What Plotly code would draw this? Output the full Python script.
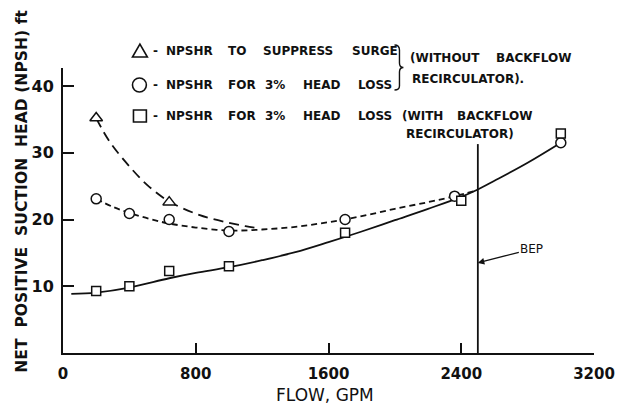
import plotly.graph_objects as go

# ---------------- data ----------------
tri_x = [200, 640]
tri_y = [35.2, 22.6]
circ_x = [200, 400, 640, 1000, 1700, 2360, 3000]
circ_y = [23.1, 20.9, 20.0, 18.2, 20.0, 23.5, 31.5]
sq_x = [200, 400, 640, 1000, 1700, 2400, 3000]
sq_y = [9.3, 10.0, 12.3, 13.0, 18.0, 22.8, 32.9]

# faired curves as drawn in the figure
tri_curve_x = [200, 280, 420, 520, 640, 820, 1000, 1100, 1180]
tri_curve_y = [35.2, 31.7, 27.4, 24.9, 22.7, 20.7, 19.5, 19.0, 18.7]
circ_curve_x = [200, 300, 400, 520, 640, 800, 1000, 1200, 1400, 1600, 1800, 2000, 2200, 2360, 2500]
circ_curve_y = [23.1, 21.9, 21.0, 20.1, 19.4, 18.8, 18.35, 18.5, 18.9, 19.6, 20.5, 21.6, 22.6, 23.5, 24.4]
sq_curve_x = [50, 200, 400, 640, 800, 1000, 1200, 1400, 1600, 1800, 2000, 2200, 2400, 2500, 2600, 2800, 3000]
sq_curve_y = [8.85, 9.05, 9.8, 11.2, 12.0, 12.85, 13.9, 15.1, 16.6, 18.2, 19.9, 21.6, 23.4, 24.5, 25.8, 28.5, 31.5]

bep_flow = 2500
bep_line_top = 31.3
bep_arrow_y = 13.5

x_ticks = [0, 800, 1600, 2400, 3200]
y_ticks = [10, 20, 30, 40]
x_range = [0, 3200]
y_range = [0, 42.7]

# ---------------- layout helpers ----------------
# the page body adds an 8px margin, so the figure is drawn 8px smaller and
# every reference-pixel position is shifted by that offset
OFF = 8
W, H = 627 - OFF, 406 - OFF
L, R, T, B = 63, 598, 68, 353   # plot area in reference-window pixels


def px(x):
    return (x - L) / (R - L)


def py(y):
    return (B - y) / (B - T)


FONT = "DejaVu Sans"
BLACK = "#111111"

fig = go.Figure()

# curves
fig.add_trace(go.Scatter(x=tri_curve_x, y=tri_curve_y, mode="lines", line_shape="spline",
                         line=dict(color=BLACK, width=1.8, dash="10px,6px"), hoverinfo="skip"))
fig.add_trace(go.Scatter(x=circ_curve_x, y=circ_curve_y, mode="lines", line_shape="spline",
                         line=dict(color=BLACK, width=1.8, dash="6px,4px"), hoverinfo="skip"))
fig.add_trace(go.Scatter(x=sq_curve_x, y=sq_curve_y, mode="lines", line_shape="spline",
                         line=dict(color=BLACK, width=1.8), hoverinfo="skip"))
# BEP line
fig.add_trace(go.Scatter(x=[bep_flow, bep_flow], y=[0, bep_line_top], mode="lines",
                         line=dict(color=BLACK, width=1.8), hoverinfo="skip"))

# markers
mk = dict(color="white", line=dict(color=BLACK, width=1.5))
fig.add_trace(go.Scatter(x=tri_x, y=tri_y, mode="markers",
                         marker=dict(symbol="triangle-up", size=11, **mk)))
fig.add_trace(go.Scatter(x=circ_x, y=circ_y, mode="markers",
                         marker=dict(symbol="circle", size=10, **mk)))
fig.add_trace(go.Scatter(x=sq_x, y=sq_y, mode="markers",
                         marker=dict(symbol="square", size=9, **mk)))

annotations = []
shapes = []


def word(text, x, y, size=12, weight="bold"):
    annotations.append(dict(text=text, x=px(x), y=py(y), xref="paper", yref="paper",
                            xanchor="left", yanchor="middle", showarrow=False,
                            font=dict(family=FONT, size=size, color=BLACK, weight=weight)))


# legend line 1
for t, x in [("-", 152), ("NPSHR", 165), ("TO", 227), ("SUPPRESS", 262), ("SURGE", 352)]:
    word(t, x, 51)
# legend line 2
for t, x in [("-", 152), ("NPSHR", 165), ("FOR", 227), ("3%", 265), ("HEAD", 303), ("LOSS", 358)]:
    word(t, x, 85)
# legend line 3
for t, x in [("-", 152), ("NPSHR", 165), ("FOR", 227), ("3%", 265), ("HEAD", 303), ("LOSS", 358),
             ("(WITH", 403), ("BACKFLOW", 458)]:
    word(t, x, 116)
word("RECIRCULATOR)", 407, 134)
word("(WITHOUT", 411, 58)
word("BACKFLOW", 497, 58)
word("RECIRCULATOR).", 413, 79)

# legend symbols
sym_line = dict(color=BLACK, width=1.6)
shapes.append(dict(type="path", xref="paper", yref="paper",
                   path=f"M{px(133)},{py(57)} L{px(148)},{py(57)} L{px(140.5)},{py(44)} Z",
                   line=sym_line))
shapes.append(dict(type="circle", xref="paper", yref="paper",
                   x0=px(133), x1=px(147), y0=py(92), y1=py(78), line=sym_line))
shapes.append(dict(type="rect", xref="paper", yref="paper",
                   x0=px(134), x1=px(147), y0=py(122), y1=py(110), line=sym_line))
# brace
shapes.append(dict(type="path", xref="paper", yref="paper",
                   path=(f"M{px(397)},{py(45)} Q{px(402)},{py(45)} {px(402)},{py(50)} "
                         f"L{px(402)},{py(63)} Q{px(402)},{py(67.5)} {px(406)},{py(67.5)} "
                         f"Q{px(402)},{py(67.5)} {px(402)},{py(72)} "
                         f"L{px(402)},{py(86)} Q{px(402)},{py(90)} {px(397)},{py(90)}"),
                   line=dict(color=BLACK, width=1.4)))

# axis titles
annotations.append(dict(text="FLOW,&nbsp;GPM", x=px(327), y=py(395), xref="paper", yref="paper",
                        xanchor="center", yanchor="middle", showarrow=False,
                        font=dict(family=FONT, size=17, color=BLACK)))
sp = "\u00a0\u00a0"
ytitle = f"NET{sp}POSITIVE{sp}SUCTION{sp}HEAD\u00a0(NPSH)\u00a0ft"
annotations.append(dict(text=ytitle, x=px(21.5), y=py(191), xref="paper", yref="paper",
                        xanchor="center", yanchor="middle", showarrow=False, textangle=-90,
                        font=dict(family=FONT, size=15.6, color=BLACK, weight="bold")))

# BEP annotation
annotations.append(dict(text="BEP", x=bep_flow, y=bep_arrow_y, xref="x", yref="y",
                        ax=54, ay=-14, showarrow=True, arrowhead=2, arrowsize=1,
                        arrowwidth=1.3, arrowcolor=BLACK,
                        font=dict(family=FONT, size=12, color=BLACK)))

fig.update_layout(
    width=W, height=H,
    margin=dict(l=L - OFF, r=(627 - R), t=T - OFF, b=(406 - B), pad=0),
    plot_bgcolor="white", paper_bgcolor="white",
    showlegend=False,
    annotations=annotations, shapes=shapes,
    xaxis=dict(range=x_range, tickvals=x_ticks, ticktext=[str(v) for v in x_ticks],
               ticks="inside", ticklen=10, tickwidth=1.5, tickcolor=BLACK,
               showline=True, linewidth=2, linecolor=BLACK, showgrid=False, zeroline=False,
               ticklabelstandoff=6,
               tickfont=dict(family=FONT, size=15, color=BLACK, weight="bold")),
    yaxis=dict(range=y_range, tickvals=y_ticks, ticktext=[str(v) for v in y_ticks],
               ticks="inside", ticklen=11, tickwidth=1.5, tickcolor=BLACK,
               showline=True, linewidth=2, linecolor=BLACK, showgrid=False, zeroline=False,
               ticklabelstandoff=4,
               tickfont=dict(family=FONT, size=16, color=BLACK, weight="bold")),
)

fig.write_html("out.html")
